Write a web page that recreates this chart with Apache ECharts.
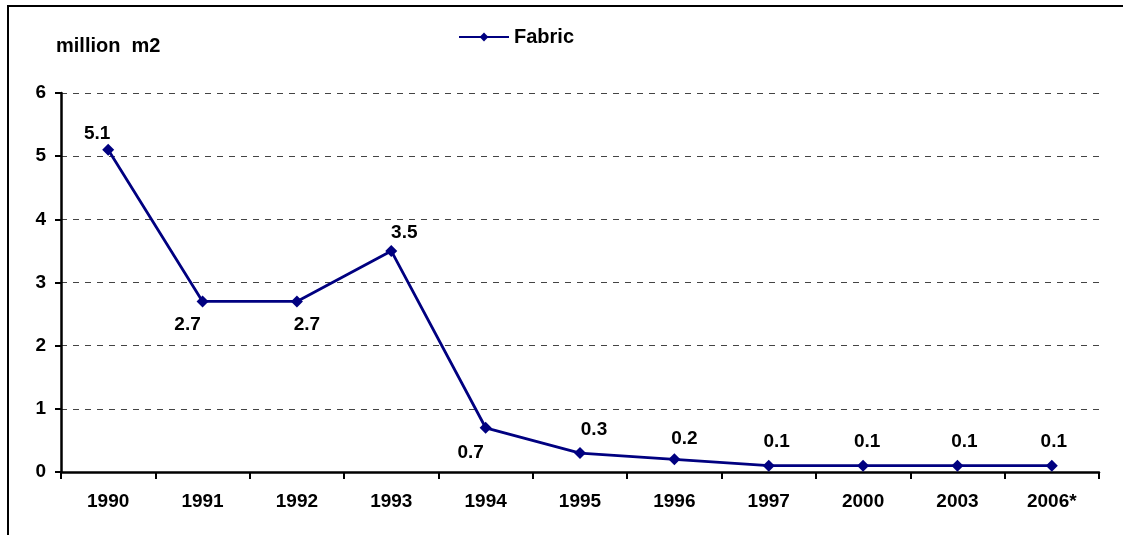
<!DOCTYPE html>
<html><head><meta charset="utf-8">
<script src="https://cdn.jsdelivr.net/npm/echarts@6/dist/echarts.min.js"></script>
<style>html,body{margin:0;padding:0;background:#fff}#c{width:1123px;height:535px}</style>
</head><body><div id="c"></div>
<script>
const categories = ['1990','1991','1992','1993','1994','1995','1996','1997','2000','2003','2006*'];
const fabric = [5.1, 2.7, 2.7, 3.5, 0.7, 0.3, 0.2, 0.1, 0.1, 0.1, 0.1];
const yTicks = [0, 1, 2, 3, 4, 5, 6];
const seriesName = 'Fabric';
const unitLabel = 'million  m2';
const labelOffsets = [[-11,-16],[-15,23],[10,23],[13,-18],[-15,25],[14,-23],[10,-21],[8,-24],[4,-24],[7,-24],[2,-24]];

const chart = echarts.init(document.getElementById('c'), null, {renderer:'canvas'});
const font = 'Arial, "Liberation Sans", sans-serif';
chart.setOption({
  animation:false,
  backgroundColor:'#fff',
  graphic:[
    {type:'rect', shape:{x:8,y:6,width:1130,height:540}, style:{fill:'none',stroke:'#000',lineWidth:2}, z:-1},
    {type:'text', left:56, top:36, style:{text:unitLabel, font:'bold 20px '+font, fill:'#000'}}
  ],
  legend:{
    data:[seriesName], left:453, top:22, itemWidth:50, itemHeight:11, itemGap:6,
    textStyle:{fontFamily:font, fontWeight:'bold', fontSize:20, color:'#000'}
  },
  grid:{left:61, right:24, top:93, bottom:63, containLabel:false},
  xAxis:{
    type:'category', data:categories, boundaryGap:true,
    axisLine:{lineStyle:{color:'#000', width:2.5}},
    axisTick:{show:true, alignWithLabel:false, length:7, lineStyle:{color:'#000', width:2}},
    axisLabel:{fontFamily:font, fontWeight:'bold', fontSize:19, color:'#000', margin:20, interval:0}
  },
  yAxis:{
    type:'value', min:yTicks[0], max:yTicks[yTicks.length-1], interval:1,
    axisLine:{show:true, lineStyle:{color:'#000', width:2.5}},
    axisTick:{show:true, length:6, lineStyle:{color:'#000', width:2}},
    axisLabel:{fontFamily:font, fontWeight:'bold', fontSize:19, color:'#000', margin:15},
    splitLine:{show:true, lineStyle:{color:'#444', width:1, type:[6,6]}}
  },
  series:[{
    name:seriesName, type:'line', data:fabric.map((v,i)=>({value:v, label:{offset:labelOffsets[i]}})),
    symbol:'diamond', symbolSize:12,
    lineStyle:{color:'#000080', width:2.8},
    itemStyle:{color:'#000080'},
    label:{show:true, position:'inside', fontFamily:font, fontWeight:'bold', fontSize:19, color:'#000',
      formatter:p=>p.value.toFixed(1)}
  }]
});
</script></body></html>
